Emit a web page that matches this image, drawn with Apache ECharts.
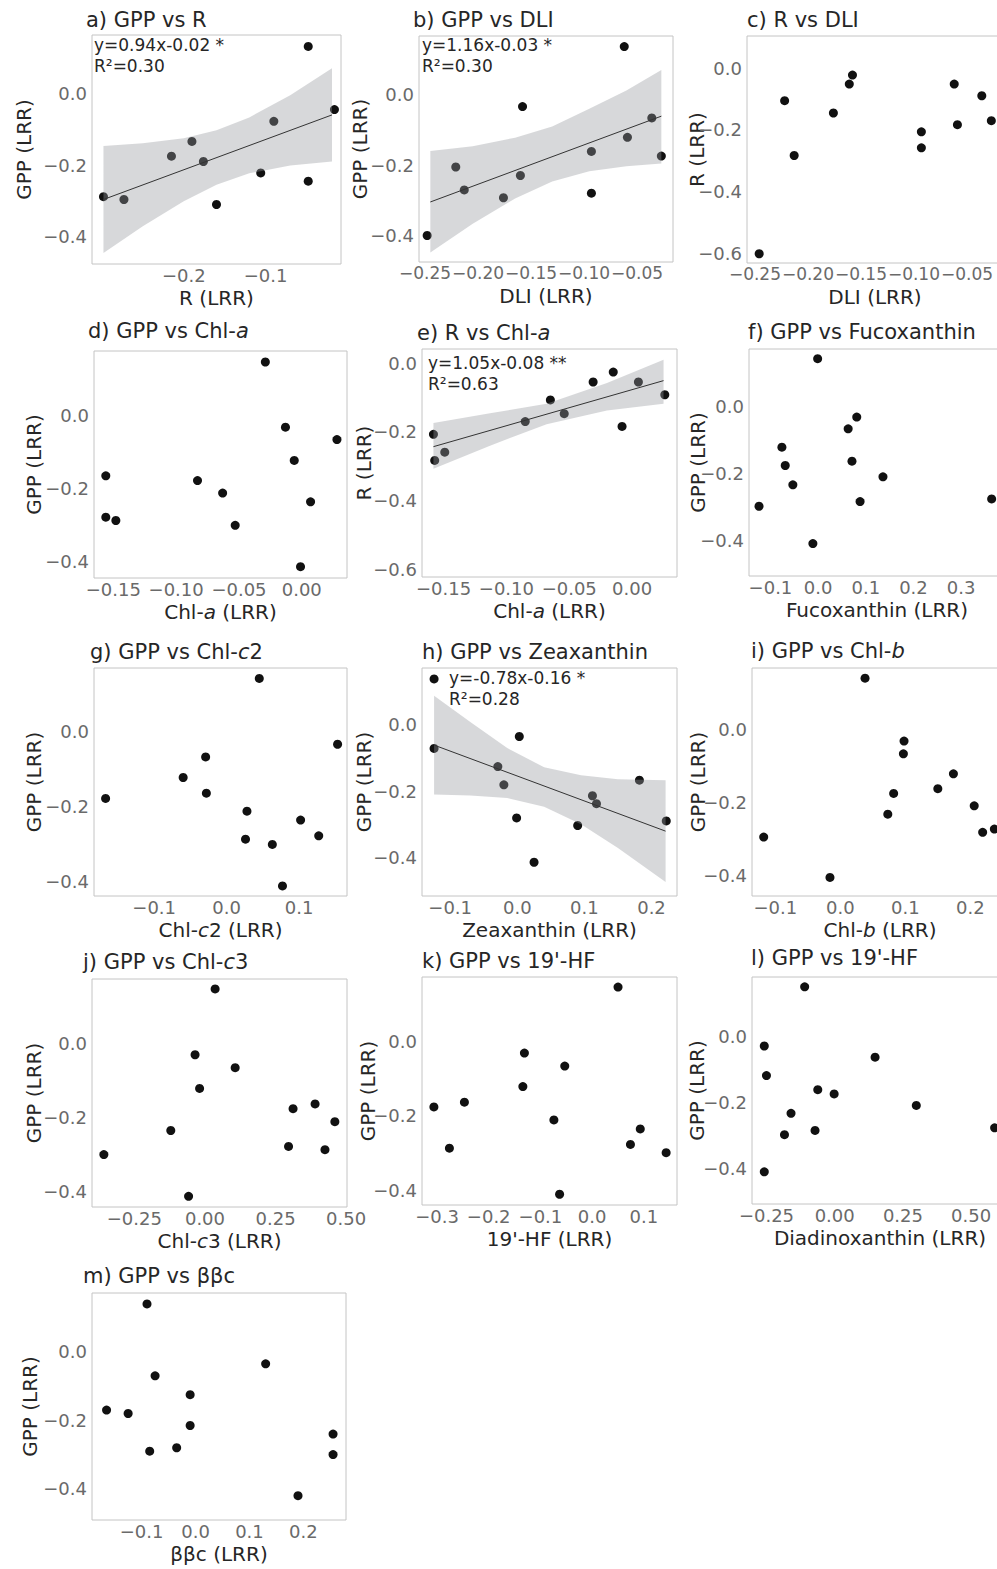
<!DOCTYPE html>
<html><head><meta charset="utf-8">
<script src="https://cdn.jsdelivr.net/npm/echarts@6/dist/echarts.min.js"></script>
<style>html,body{margin:0;padding:0;background:#fff}#chart{width:997px;height:1569px}</style>
</head><body><div id="chart"></div>
<script>
// ---------------- data ----------------
// a) GPP vs R
const R_a   = [-0.298,-0.273,-0.215,-0.190,-0.176,-0.160,-0.106,-0.090,-0.048,-0.048,-0.016];
const GPP_a = [-0.288,-0.296,-0.175,-0.134,-0.190,-0.310,-0.222,-0.078, 0.131,-0.245,-0.045];
const fitX_a = [-0.298,-0.019];
const fitY_a = [-0.296,-0.060];
const bandX_a  = [-0.298,-0.250,-0.200,-0.160,-0.120,-0.070,-0.019];
const bandUp_a = [-0.147,-0.139,-0.125,-0.103,-0.067,-0.005, 0.070];
const bandLo_a = [-0.445,-0.371,-0.301,-0.255,-0.223,-0.201,-0.190];
// b) GPP vs DLI
const DLI_b = [-0.248,-0.221,-0.213,-0.176,-0.160,-0.158,-0.093,-0.093,-0.062,-0.059,-0.036,-0.027];
const GPP_b = [-0.399,-0.205,-0.270,-0.292,-0.229,-0.034,-0.161,-0.279, 0.136,-0.121,-0.066,-0.174];
const fitX_b = [-0.245,-0.027];
const fitY_b = [-0.304,-0.061];
const bandX_b  = [-0.245,-0.205,-0.165,-0.130,-0.095,-0.060,-0.027];
const bandUp_b = [-0.160,-0.146,-0.122,-0.090,-0.040, 0.012, 0.070];
const bandLo_b = [-0.447,-0.366,-0.294,-0.246,-0.217,-0.203,-0.195];
// c) R vs DLI
const DLI_c = [-0.246,-0.222,-0.213,-0.176,-0.161,-0.158,-0.093,-0.093,-0.062,-0.059,-0.036,-0.027];
const R_c   = [-0.602,-0.105,-0.283,-0.145,-0.051,-0.022,-0.206,-0.258,-0.051,-0.183,-0.089,-0.170];
// d) GPP vs Chl-a
const CHLA_d = [-0.156,-0.156,-0.148,-0.083,-0.063,-0.053,-0.029,-0.013,-0.006, 0.007,-0.001, 0.028];
const GPP_d  = [-0.166,-0.279,-0.288,-0.179,-0.213,-0.301, 0.145,-0.033,-0.124,-0.237,-0.414,-0.067];
// e) R vs Chl-a
const CHLA_e = [-0.158,-0.157,-0.149,-0.085,-0.065,-0.054,-0.031,-0.015,-0.008, 0.005, 0.026];
const R_e    = [-0.207,-0.283,-0.259,-0.170,-0.107,-0.147,-0.055,-0.026,-0.184,-0.055,-0.092];
const fitX_e = [-0.158, 0.025];
const fitY_e = [-0.243,-0.051];
const bandX_e  = [-0.158,-0.113,-0.068,-0.020, 0.025];
const bandUp_e = [-0.174,-0.146,-0.118,-0.058, 0.010];
const bandLo_e = [-0.307,-0.240,-0.178,-0.138,-0.118];
// f) GPP vs Fucoxanthin
const FUCO_f = [-0.124,-0.076,-0.069,-0.053,-0.011,-0.001, 0.063, 0.081, 0.071, 0.088, 0.136, 0.364];
const GPP_f  = [-0.298,-0.121,-0.176,-0.234,-0.410, 0.144,-0.066,-0.031,-0.163,-0.284,-0.210,-0.276];
// g) GPP vs Chl-c2
const CHLC2_g = [-0.167,-0.060,-0.029,-0.028, 0.028, 0.026, 0.045, 0.063, 0.077, 0.102, 0.127, 0.153];
const GPP_g   = [-0.179,-0.123,-0.068,-0.165,-0.213,-0.288, 0.142,-0.302,-0.413,-0.237,-0.279,-0.034];
// h) GPP vs Zeaxanthin
const ZEA_h = [-0.124,-0.124,-0.029,-0.020, 0.003,-0.001, 0.025, 0.090, 0.112, 0.118, 0.182, 0.222];
const GPP_h = [ 0.139,-0.071,-0.126,-0.181,-0.035,-0.281,-0.415,-0.304,-0.214,-0.238,-0.167,-0.290];
const fitX_h = [-0.124, 0.221];
const fitY_h = [-0.061,-0.321];
const bandX_h  = [-0.124,-0.070,-0.015, 0.040, 0.095, 0.150, 0.221];
const bandUp_h = [ 0.088, 0.009,-0.070,-0.128,-0.152,-0.164,-0.167];
const bandLo_h = [-0.210,-0.213,-0.221,-0.247,-0.300,-0.372,-0.475];
// i) GPP vs Chl-b
const CHLB_i = [-0.118,-0.016, 0.038, 0.073, 0.082, 0.097, 0.098, 0.150, 0.174, 0.206, 0.219, 0.237];
const GPP_i  = [-0.295,-0.406, 0.142,-0.232,-0.175,-0.066,-0.031,-0.162,-0.121,-0.209,-0.282,-0.273];
// j) GPP vs Chl-c3
const CHLC3_j = [-0.358,-0.121,-0.058,-0.035,-0.019, 0.036, 0.107, 0.296, 0.312, 0.390, 0.425, 0.460];
const GPP_j   = [-0.301,-0.236,-0.414,-0.031,-0.122, 0.147,-0.066,-0.279,-0.177,-0.164,-0.288,-0.212];
// k) GPP vs 19'-HF
const HF_k  = [-0.306,-0.276,-0.247,-0.134,-0.131,-0.074,-0.053,-0.063, 0.050, 0.074, 0.093, 0.143];
const GPP_k = [-0.176,-0.287,-0.163,-0.121,-0.031,-0.211,-0.066,-0.411, 0.147,-0.277,-0.235,-0.299];
// l) GPP vs Diadinoxanthin
const DIA_l = [-0.258,-0.250,-0.258,-0.184,-0.160,-0.110,-0.072,-0.062,-0.002, 0.148, 0.299, 0.586];
const GPP_l = [-0.028,-0.118,-0.411,-0.298,-0.233, 0.152,-0.285,-0.161,-0.174,-0.062,-0.209,-0.277];
// m) GPP vs bbc
const BBC_m = [-0.090,-0.075, 0.130,-0.010,-0.165,-0.125,-0.010,-0.035,-0.085, 0.255, 0.255, 0.190];
const GPP_m = [ 0.140,-0.070,-0.035,-0.125,-0.170,-0.180,-0.215,-0.280,-0.290,-0.240,-0.300,-0.420];

// tick labels
const yt_gpp = [-0.4,-0.2,0.0];
const yt_r   = [-0.6,-0.4,-0.2,0.0];
const xt_a = [-0.2,-0.1];
const xt_dli = [-0.25,-0.20,-0.15,-0.10,-0.05];
const xt_chla = [-0.15,-0.10,-0.05,0.00];
const xt_f = [-0.1,0.0,0.1,0.2,0.3];
const xt_g = [-0.1,0.0,0.1];
const xt_h = [-0.1,0.0,0.1,0.2];
const xt_i = [-0.1,0.0,0.1,0.2];
const xt_j = [-0.25,0.00,0.25,0.50];
const xt_k = [-0.3,-0.2,-0.1,0.0,0.1];
const xt_l = [-0.25,0.00,0.25,0.50];
const xt_m = [-0.1,0.0,0.1,0.2];

// ---------------- styling / layout ----------------
const FONT = 'DejaVu Sans';
const INK = '#262626';
const TICK = '#6a6a6a';
const zip = (a,b) => a.map((v,k)=>[v,b[k]]);
const fmt = d => v => (v < -1e-9 ? '\u2212' : '') + Math.abs(v).toFixed(d);

const panels = [
 {x:R_a, y:GPP_a, fit:[fitX_a,fitY_a], band:[bandX_a,bandUp_a,bandLo_a],
  box:[92,35,249,229], xr:[-0.312,-0.008], yr:[-0.476,0.163], xt:xt_a, xd:1, yt:yt_gpp, yd:1,
  xName:'R (LRR)', yName:'GPP (LRR)', yGap:58, title:'a) GPP vs R', tPos:[86,20],
  note:['y=0.94x-0.02 *','R\u00b2=0.30'], nPos:[94,45]},
 {x:DLI_b, y:GPP_b, fit:[fitX_b,fitY_b], band:[bandX_b,bandUp_b,bandLo_b],
  box:[419,36,254,226], xr:[-0.2557,-0.016], yr:[-0.474,0.166], xt:xt_dli, xd:2, yt:yt_gpp, yd:1, xfs:17,
  xName:'DLI (LRR)', yName:'GPP (LRR)', yGap:49, title:'b) GPP vs DLI', tPos:[413,20],
  note:['y=1.16x-0.03 *','R\u00b2=0.30'], nPos:[422,45]},
 {x:DLI_c, y:R_c,
  box:[747,36,256,227], xr:[-0.2575,-0.016], yr:[-0.632,0.105], xt:xt_dli, xd:2, yt:yt_r, yd:1, xfs:17,
  xName:'DLI (LRR)', yName:'R (LRR)', yGap:40, title:'c) R vs DLI', tPos:[747,20]},
 {x:CHLA_d, y:GPP_d,
  box:[94,351,253,227], xr:[-0.1654,0.036], yr:[-0.445,0.175], xt:xt_chla, xd:2, yt:yt_gpp, yd:1,
  xName:'Chl-{i|a} (LRR)', yName:'GPP (LRR)', yGap:50, title:'d) GPP vs Chl-{i|a}', tPos:[88,331]},
 {x:CHLA_e, y:R_e, fit:[fitX_e,fitY_e], band:[bandX_e,bandUp_e,bandLo_e],
  box:[422,349,255,228], xr:[-0.1671,0.0357], yr:[-0.622,0.041], xt:xt_chla, xd:2, yt:yt_r, yd:1,
  xName:'Chl-{i|a} (LRR)', yName:'R (LRR)', yGap:48, title:'e) R vs Chl-{i|a}', tPos:[417,333],
  note:['y=1.05x-0.08 **','R\u00b2=0.63'], nPos:[428,363]},
 {x:FUCO_f, y:GPP_f,
  box:[749,349,256,227], xr:[-0.145,0.392], yr:[-0.507,0.173], xt:xt_f, xd:1, yt:yt_gpp, yd:1,
  xName:'Fucoxanthin (LRR)', yName:'GPP (LRR)', yGap:41, title:'f) GPP vs Fucoxanthin', tPos:[748,332]},
 {x:CHLC2_g, y:GPP_g,
  box:[94,668,253,228], xr:[-0.183,0.166], yr:[-0.440,0.170], xt:xt_g, xd:1, yt:yt_gpp, yd:1,
  xName:'Chl-{i|c}2 (LRR)', yName:'GPP (LRR)', yGap:50, title:'g) GPP vs Chl-{i|c}2', tPos:[90,652]},
 {x:ZEA_h, y:GPP_h, fit:[fitX_h,fitY_h], band:[bandX_h,bandUp_h,bandLo_h],
  box:[422,668,255,228], xr:[-0.142,0.238], yr:[-0.517,0.172], xt:xt_h, xd:1, yt:yt_gpp, yd:1,
  xName:'Zeaxanthin (LRR)', yName:'GPP (LRR)', yGap:48, title:'h) GPP vs Zeaxanthin', tPos:[422,652],
  note:['y=-0.78x-0.16 *','R\u00b2=0.28'], nPos:[449,678]},
 {x:CHLB_i, y:GPP_i,
  box:[752,668,256,228], xr:[-0.136,0.258], yr:[-0.457,0.170], xt:xt_i, xd:1, yt:yt_gpp, yd:1,
  xName:'Chl-{i|b} (LRR)', yName:'GPP (LRR)', yGap:44, title:'i) GPP vs Chl-{i|b}', tPos:[751,651]},
 {x:CHLC3_j, y:GPP_j,
  box:[92,979,255,228], xr:[-0.400,0.503], yr:[-0.443,0.174], xt:xt_j, xd:2, yt:yt_gpp, yd:1,
  xName:'Chl-{i|c}3 (LRR)', yName:'GPP (LRR)', yGap:48, title:'j) GPP vs Chl-{i|c}3', tPos:[83,962]},
 {x:HF_k, y:GPP_k,
  box:[422,977,255,228], xr:[-0.329,0.164], yr:[-0.440,0.174], xt:xt_k, xd:1, yt:yt_gpp, yd:1,
  xName:"19'-HF (LRR)", yName:'GPP (LRR)', yGap:44, title:"k) GPP vs 19'-HF", tPos:[422,961]},
 {x:DIA_l, y:GPP_l,
  box:[752,977,256,227], xr:[-0.303,0.635], yr:[-0.509,0.182], xt:xt_l, xd:2, yt:yt_gpp, yd:1,
  xName:'Diadinoxanthin (LRR)', yName:'GPP (LRR)', yGap:45, title:"l) GPP vs 19'-HF", tPos:[751,958]},
 {x:BBC_m, y:GPP_m,
  box:[92,1293,254,227], xr:[-0.192,0.279], yr:[-0.491,0.172], xt:xt_m, xd:1, yt:yt_gpp, yd:1,
  xName:'\u03b2\u03b2c (LRR)', yName:'GPP (LRR)', yGap:52, title:'m) GPP vs \u03b2\u03b2c', tPos:[83,1276]}
];

const rich = size => ({i:{fontStyle:'italic', fontSize:size, fontFamily:FONT, color:INK}});

const option = {
  animation:false,
  backgroundColor:'#ffffff',
  grid: panels.map(p => ({left:p.box[0], top:p.box[1], width:p.box[2], height:p.box[3],
    show:true, borderColor:'#c4c4c4', borderWidth:1, backgroundColor:'rgba(0,0,0,0)',
    containLabel:false, outerBoundsMode:'none'})),
  xAxis: panels.map((p,i) => ({type:'value', gridIndex:i, min:p.xr[0], max:p.xr[1],
    axisLine:{show:false}, axisTick:{show:false}, splitLine:{show:false},
    axisLabel:{customValues:p.xt, formatter:fmt(p.xd), fontSize:p.xfs||18, fontFamily:FONT, color:TICK, margin:2,
      hideOverlap:false, showMinLabel:true, showMaxLabel:true},
    name:p.xName, nameLocation:'middle', nameGap:24, nameMoveOverlap:false,
    nameTextStyle:{fontSize:20, fontFamily:FONT, color:INK, rich:rich(20)}})),
  yAxis: panels.map((p,i) => ({type:'value', gridIndex:i, min:p.yr[0], max:p.yr[1],
    axisLine:{show:false}, axisTick:{show:false}, splitLine:{show:false},
    axisLabel:{customValues:p.yt, formatter:fmt(p.yd), fontSize:18, fontFamily:FONT, color:TICK, margin:5,
      hideOverlap:false, showMinLabel:true, showMaxLabel:true},
    name:p.yName, nameLocation:'middle', nameGap:p.yGap, nameMoveOverlap:false,
    nameTextStyle:{fontSize:20, fontFamily:FONT, color:INK, rich:rich(20)}})),
  series: [],
  graphic: []
};

panels.forEach((p,i) => {
  option.series.push({type:'scatter', xAxisIndex:i, yAxisIndex:i, data:zip(p.x,p.y),
    symbol:'circle', symbolSize:9, itemStyle:{color:'#111111', opacity:1}, z:2, silent:true});
  if (p.band) {
    const [bx,bu,bl] = p.band;
    option.series.push({type:'custom', xAxisIndex:i, yAxisIndex:i, data:[[bx[0],bu[0]]], z:3, silent:true,
      renderItem:(params, api) => {
        const pts = bx.map((v,k)=>api.coord([v,bu[k]]));
        for (let k=bx.length-1;k>=0;k--) pts.push(api.coord([bx[k],bl[k]]));
        return {type:'polygon', shape:{points:pts}, style:{fill:'rgba(150,153,158,0.38)', stroke:null}};
      }});
  }
  if (p.fit) {
    option.series.push({type:'line', xAxisIndex:i, yAxisIndex:i, data:zip(p.fit[0],p.fit[1]),
      showSymbol:false, symbol:'none', lineStyle:{color:'#333333', width:1}, z:4, silent:true});
  }
  option.graphic.push({type:'text', x:p.tPos[0], y:p.tPos[1], silent:true,
    style:{text:p.title, fontSize:21, fontFamily:FONT, fill:INK, align:'left', verticalAlign:'middle', rich:rich(21)}});
  if (p.note) {
    p.note.forEach((t,k) => option.graphic.push({type:'text', x:p.nPos[0], y:p.nPos[1]+21*k, silent:true, z:10,
      style:{text:t, fontSize:17, fontFamily:FONT, fill:INK, align:'left', verticalAlign:'middle'}}));
  }
});

const chart = echarts.init(document.getElementById('chart'), null, {renderer:'svg'});
chart.setOption(option);
</script></body></html>
